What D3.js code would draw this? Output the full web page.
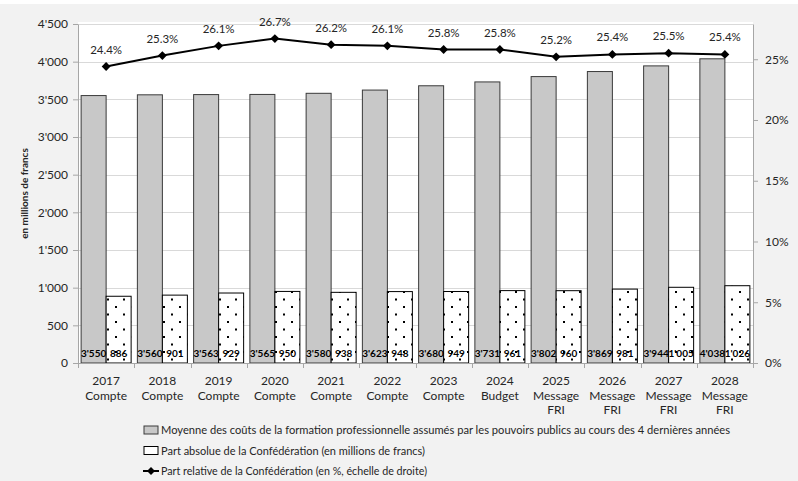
<!DOCTYPE html>
<html>
<head>
<meta charset="utf-8">
<script src="https://cdn.jsdelivr.net/npm/d3@7"></script>
<style>
html,body{margin:0;padding:0;background:#f2f2f2;}
svg{display:block;}
text{font-family:Lato, "Open Sans", sans-serif;fill:#262626;}
</style>
</head>
<body>
<svg id="chart" width="798" height="481"></svg>
<script>
// ---- data ----
const years = ["2017","2018","2019","2020","2021","2022","2023","2024","2025","2026","2027","2028"];
const kinds = [["Compte"],["Compte"],["Compte"],["Compte"],["Compte"],["Compte"],["Compte"],["Budget"],["Message","FRI"],["Message","FRI"],["Message","FRI"],["Message","FRI"]];
const avgCosts = [3550,3560,3563,3565,3580,3623,3680,3731,3802,3869,3944,4038];
const fedAbsolute = [886,901,929,950,938,948,949,961,960,981,1005,1026];
const fedRelative = [24.4,25.3,26.1,26.7,26.2,26.1,25.8,25.8,25.2,25.4,25.5,25.4];
const leftTicks = [0,500,1000,1500,2000,2500,3000,3500,4000,4500];
const rightTicks = [0,5,10,15,20,25];
const legendLabels = [
  "Moyenne des coûts de la formation professionnelle assumés par les pouvoirs publics au cours des 4 dernières années",
  "Part absolue de la Confédération (en millions de francs)",
  "Part relative de la Confédération (en %, échelle de droite)"
];
const yTitle = "en millions de francs";

// ---- layout ----
const W = 798, H = 481;
const L = 78, R = 753, T = 24, B = 363;
const svg = d3.select("#chart");

svg.append("rect").attr("width",W).attr("height",H).attr("fill","#f2f2f2");
svg.append("rect").attr("width",W).attr("height",4).attr("fill","#ffffff");
svg.append("rect").attr("x",L).attr("y",22).attr("width",R-L).attr("height",B-22).attr("fill","#ffffff");

const defs = svg.append("defs");
const pat = defs.append("pattern").attr("id","dots").attr("patternUnits","userSpaceOnUse")
  .attr("width",16).attr("height",15).attr("x",0).attr("y",B);
pat.append("rect").attr("width",16).attr("height",15).attr("fill","#fff");
pat.append("rect").attr("x",3).attr("y",3).attr("width",2).attr("height",2).attr("fill","#000");
pat.append("rect").attr("x",11).attr("y",10.5).attr("width",2).attr("height",2).attr("fill","#000");

const x = d3.scaleBand().domain(years).range([L,R]).paddingInner(0).paddingOuter(0);
const xs = d3.scaleBand().domain(["avg","abs"]).range([0,x.bandwidth()]).paddingInner(0).paddingOuter(0.125);
const y = d3.scaleLinear().domain([0,4500]).range([B,T]);
const yR = d3.scaleLinear().domain([0,27.9]).range([B,T]);

const loc = d3.formatLocale({decimal:".",thousands:"'",grouping:[3],currency:["",""]});
const fmt = loc.format(",");

// gridlines
svg.append("g").selectAll("line").data(leftTicks.filter(d=>d>0)).join("line")
  .attr("x1",L).attr("x2",R).attr("y1",d=>Math.round(y(d))+0.5).attr("y2",d=>Math.round(y(d))+0.5)
  .attr("stroke","#d9d9d9").attr("stroke-width",1);

// bars
const idx = d3.range(years.length);
svg.append("g").selectAll("rect").data(idx).join("rect")
  .attr("x",i=>x(years[i])+xs("avg")).attr("width",xs.bandwidth())
  .attr("y",i=>y(avgCosts[i])).attr("height",i=>B-y(avgCosts[i]))
  .attr("fill","#c8c8c8").attr("stroke","#3a3a3a").attr("stroke-width",1);
svg.append("g").selectAll("rect").data(idx).join("rect")
  .attr("x",i=>x(years[i])+xs("abs")).attr("width",xs.bandwidth())
  .attr("y",i=>y(fedAbsolute[i])).attr("height",i=>B-y(fedAbsolute[i]))
  .attr("fill","url(#dots)").attr("stroke","#000").attr("stroke-width",1);

// bar value labels
svg.append("g").selectAll("text").data(idx).join("text")
  .attr("x",i=>x(years[i])+xs("avg")+xs.bandwidth()/2).attr("y",B-6)
  .attr("text-anchor","middle").attr("font-size",10).attr("font-weight","bold")
  .style("fill","#000").text(i=>fmt(avgCosts[i]));
svg.append("g").selectAll("text").data(idx).join("text")
  .attr("x",i=>x(years[i])+xs("abs")+xs.bandwidth()/2).attr("y",B-6)
  .attr("text-anchor","middle").attr("font-size",10).attr("font-weight","bold")
  .style("fill","#000").text(i=>fmt(fedAbsolute[i]));

// axes
const axisColor = "#a6a6a6";
const gL = svg.append("g").attr("transform",`translate(${L},0)`)
  .call(d3.axisLeft(y).tickValues(leftTicks).tickFormat(fmt).tickSizeInner(5).tickSizeOuter(0));
const gR = svg.append("g").attr("transform",`translate(${R},0)`)
  .call(d3.axisRight(yR).tickValues(rightTicks).tickFormat(d=>d+"%").tickSizeInner(5).tickSizeOuter(0));
[gL,gR].forEach(g=>{
  g.select(".domain").attr("stroke",axisColor);
  g.selectAll(".tick line").attr("stroke",axisColor);
  g.selectAll(".tick text").attr("font-size",12).attr("font-family","Lato, sans-serif").style("fill","#262626");
});
gL.selectAll(".tick text").attr("x",-10);
gR.selectAll(".tick text").attr("x",12);

// x axis
svg.append("line").attr("x1",L).attr("x2",R).attr("y1",B+0.5).attr("y2",B+0.5).attr("stroke",axisColor);
const bounds = years.map(c=>x(c)).concat([x(years[years.length-1])+x.bandwidth()]);
svg.append("g").selectAll("line").data(bounds).join("line")
  .attr("x1",d=>Math.round(d)+0.5).attr("x2",d=>Math.round(d)+0.5).attr("y1",B).attr("y2",B+5)
  .attr("stroke",axisColor);
const xl = svg.append("g").selectAll("text").data(idx).join("text")
  .attr("x",i=>x(years[i])+x.bandwidth()/2).attr("y",385)
  .attr("text-anchor","middle").attr("font-size",12);
xl.each(function(i){
  const t = d3.select(this);
  t.append("tspan").attr("x",x(years[i])+x.bandwidth()/2).attr("dy",0).text(years[i]);
  kinds[i].forEach(k=>t.append("tspan").attr("x",x(years[i])+x.bandwidth()/2).attr("dy",14.5).text(k));
});

// y title
svg.append("text").attr("transform",`translate(28,${(T+B)/2}) rotate(-90)`)
  .attr("text-anchor","middle").attr("font-size",10).attr("font-weight","bold").text(yTitle);

// line
const cx = i=>x(years[i])+x.bandwidth()/2;
svg.append("path").datum(idx)
  .attr("d",d3.line().x(cx).y(i=>yR(fedRelative[i])))
  .attr("fill","none").attr("stroke","#000").attr("stroke-width",2);
svg.append("g").selectAll("path").data(idx).join("path")
  .attr("d",d3.symbol(d3.symbolDiamond2,50)())
  .attr("transform",i=>`translate(${cx(i)},${yR(fedRelative[i])})`).attr("fill","#000");
svg.append("g").selectAll("text").data(idx).join("text")
  .attr("x",cx).attr("y",i=>yR(fedRelative[i])-13)
  .attr("text-anchor","middle").attr("font-size",11.5).text(i=>fedRelative[i].toFixed(1)+"%");

// legend
const legY = [430,450.5,471];
const legX = 144, legTx = 161;
const lg = svg.append("g");
lg.append("rect").attr("x",legX).attr("y",legY[0]-4).attr("width",14).attr("height",8)
  .attr("fill","#c8c8c8").attr("stroke","#3a3a3a");
lg.append("rect").attr("x",legX).attr("y",legY[1]-4).attr("width",14).attr("height",8)
  .attr("fill","#fff").attr("stroke","#000");
lg.append("line").attr("x1",legX-1).attr("x2",legX+15).attr("y1",legY[2]).attr("y2",legY[2])
  .attr("stroke","#000").attr("stroke-width",2);
lg.append("path").attr("d",d3.symbol(d3.symbolDiamond2,40)())
  .attr("transform",`translate(${legX+7},${legY[2]})`).attr("fill","#000");
const legLen = [569,264,266];
lg.selectAll("text").data(legendLabels).join("text")
  .attr("x",legTx).attr("y",(d,i)=>legY[i]+4).attr("font-size",11.5)
  .attr("textLength",(d,i)=>legLen[i]).attr("lengthAdjust","spacingAndGlyphs")
  .text(d=>d);
</script>
</body>
</html>
